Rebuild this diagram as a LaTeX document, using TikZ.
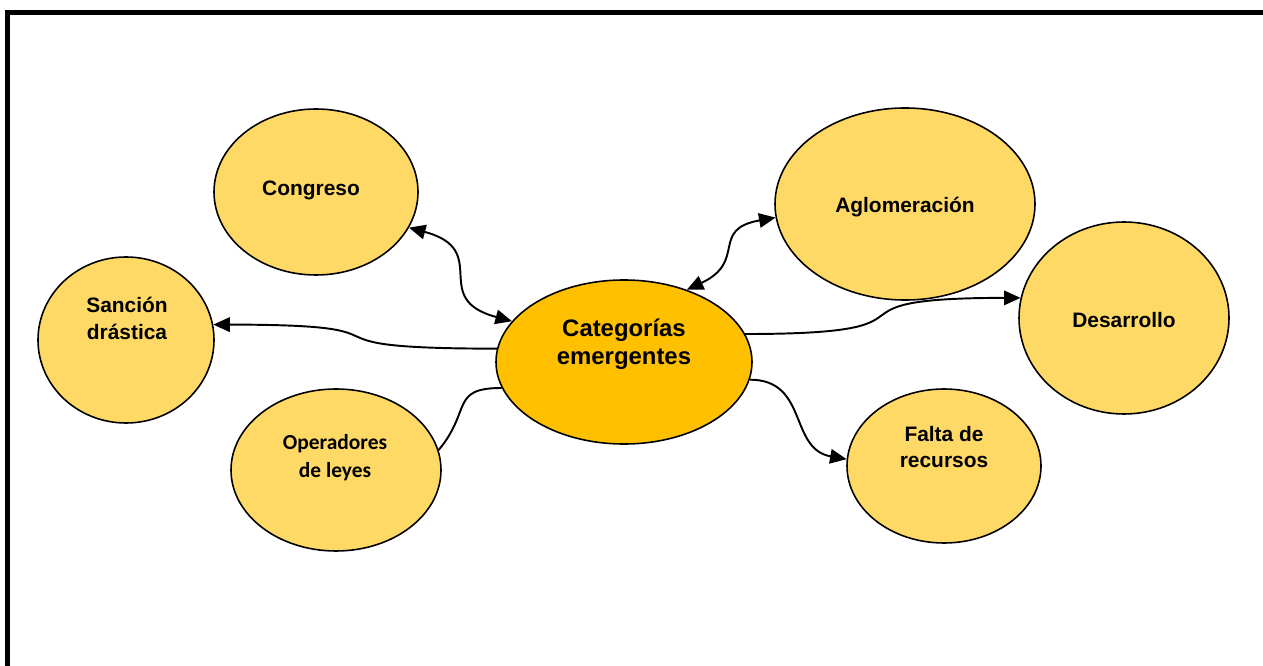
\documentclass[tikz,border=0pt]{standalone}
\usepackage{fontspec}
\setmainfont{Liberation Sans}
\newfontfamily\calibrifont{Carlito}
\usetikzlibrary{arrows.meta, shapes.geometric}

\definecolor{bubblegold}{HTML}{FFD966}
\definecolor{coregold}{HTML}{FFC000}

\begin{document}
\begin{tikzpicture}[
    bubble/.style={ellipse, draw=black, line width=0.9pt, fill=bubblegold, inner sep=0pt},
    core/.style={bubble, fill=coregold},
    txt/.style={align=center, font=\bfseries\fontsize{11.9}{15.3}\selectfont},
    link/.style={line width=1.1pt},
    arrow/.style={-{Triangle[length=3.3mm, width=2.9mm]}, line width=1.1pt},
    twoway/.style={{Triangle[length=3.3mm, width=2.9mm]}-{Triangle[length=3.3mm, width=2.9mm]}, line width=1.1pt}
]

    \useasboundingbox (0, 0) rectangle (25.26, -13.32);

    % Frame
    \draw[line width=2.8pt] (0.15, -13.6) -- (0.15, -0.25) -- (25.6, -0.25);

    % Central bubble
    \node[core, minimum width=5.12cm, minimum height=3.28cm] (cat) at (12.48, -7.24) {};
    \node[txt, font=\bfseries\fontsize{13.6}{15.9}\selectfont] (catlbl) at (12.48, -6.88) {Categorías\\emergentes};

    % Outer bubbles
    \node[bubble, minimum width=4.08cm, minimum height=3.32cm] (congreso) at (6.32, -3.84) {};
    \node[txt] (congresolbl) at (6.22, -3.80) {Congreso};

    \node[bubble, minimum width=5.2cm, minimum height=3.84cm] (aglo) at (18.10, -4.08) {};
    \node[txt] (aglolbl) at (18.10, -4.14) {Aglomeración};

    \node[bubble, minimum width=3.52cm, minimum height=3.32cm] (sancion) at (2.52, -6.80) {};
    \node[txt] (sancionlbl) at (2.54, -6.36) {Sanción\\drástica};

    \node[bubble, minimum width=4.2cm, minimum height=3.84cm] (desarrollo) at (22.48, -6.36) {};
    \node[txt] (desarrollolbl) at (22.48, -6.40) {Desarrollo};

    \node[bubble, minimum width=4.2cm, minimum height=3.24cm] (oper) at (6.72, -9.40) {};
    \node[txt, font=\calibrifont\bfseries\fontsize{12.2}{15.9}\selectfont] (operlbl) at (6.70, -9.16) {Operadores\\de leyes};

    \node[bubble, minimum width=3.88cm, minimum height=3.08cm] (falta) at (18.88, -9.32) {};
    \node[txt] (faltalbl) at (18.88, -8.94) {Falta de\\recursos};

    % Connectors
    \draw[twoway] (congreso.-21) to[out=-15, in=165, looseness=1.6] (cat.160);
    \draw[twoway] (cat.49) to[out=25, in=190, looseness=1.5] (aglo.186);
    \draw[arrow] (cat.174) to[out=180, in=0, looseness=2] (sancion.10);
    \draw[arrow] (cat.13) to[out=0, in=180, looseness=2] (desarrollo.169);
    \draw[link] (oper.11) to[out=50, in=180, looseness=1.5] (cat.192);
    \draw[arrow] (cat.-8) to[out=0, in=170, looseness=1.2] (falta.176);

\end{tikzpicture}
\end{document}
